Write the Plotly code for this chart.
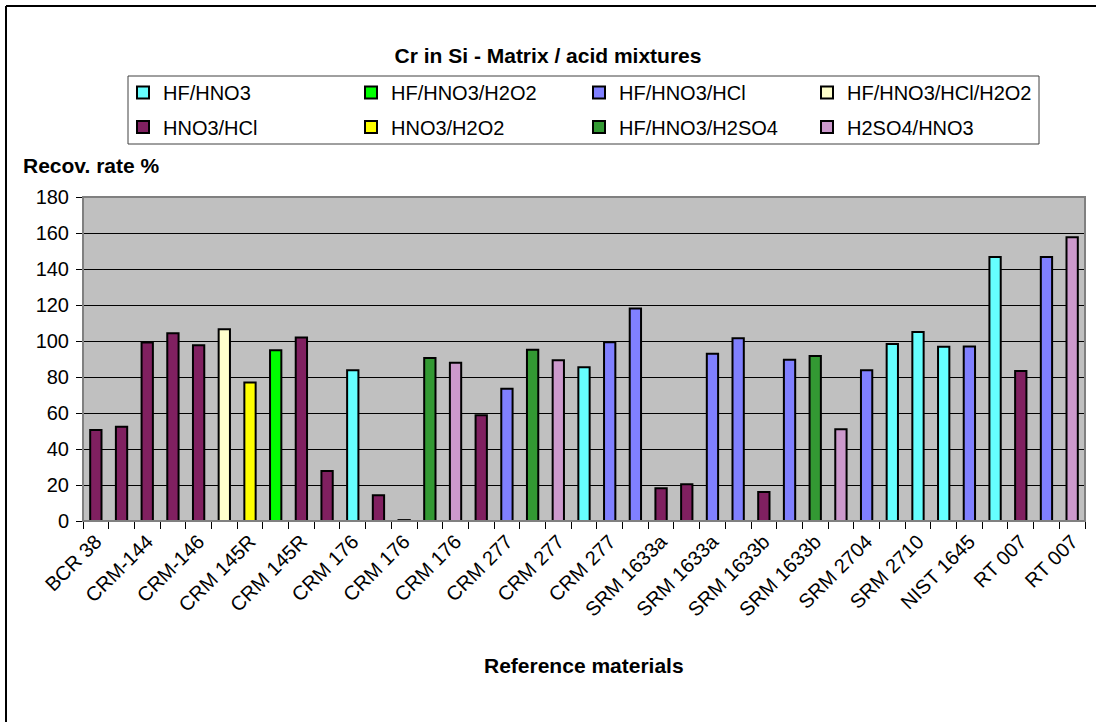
import plotly.graph_objects as go

# ---- data -------------------------------------------------------------
categories = ["BCR 38", "BCR 38", "CRM-144", "CRM-144", "CRM-146",
              "CRM 145R", "CRM 145R", "CRM 145R", "CRM 145R",
              "CRM 176", "CRM 176", "CRM 176", "CRM 176", "CRM 176", "CRM 176",
              "CRM 277", "CRM 277", "CRM 277", "CRM 277", "CRM 277", "CRM 277",
              "SRM 1633a", "SRM 1633a", "SRM 1633a", "SRM 1633a",
              "SRM 1633b", "SRM 1633b", "SRM 1633b", "SRM 1633b",
              "SRM 2704", "SRM 2704", "SRM 2710", "SRM 2710",
              "NIST 1645", "NIST 1645", "RT 007", "RT 007", "RT 007", "RT 007"]

values = [50.5, 52.3, 99.1, 104.3, 97.6, 106.5, 77.0, 94.8, 102.0, 27.8,
          83.7, 14.3, 0.5, 90.5, 87.9, 58.8, 73.5, 95.2, 89.3, 85.4,
          99.3, 118.0, 18.2, 20.4, 92.9, 101.5, 16.1, 89.6, 91.7, 51.0,
          83.7, 98.3, 105.0, 96.8, 97.0, 146.7, 83.3, 146.7, 157.7]

methods = ["HNO3/HCl", "HNO3/HCl", "HNO3/HCl", "HNO3/HCl", "HNO3/HCl",
           "HF/HNO3/HCl/H2O2", "HNO3/H2O2", "HF/HNO3/H2O2", "HNO3/HCl", "HNO3/HCl",
           "HF/HNO3", "HNO3/HCl", "HNO3/HCl", "HF/HNO3/H2SO4", "H2SO4/HNO3",
           "HNO3/HCl", "HF/HNO3/HCl", "HF/HNO3/H2SO4", "H2SO4/HNO3", "HF/HNO3",
           "HF/HNO3/HCl", "HF/HNO3/HCl", "HNO3/HCl", "HNO3/HCl", "HF/HNO3/HCl",
           "HF/HNO3/HCl", "HNO3/HCl", "HF/HNO3/HCl", "HF/HNO3/H2SO4", "H2SO4/HNO3",
           "HF/HNO3/HCl", "HF/HNO3", "HF/HNO3", "HF/HNO3", "HF/HNO3/HCl",
           "HF/HNO3", "HNO3/HCl", "HF/HNO3/HCl", "H2SO4/HNO3"]

legend_row1 = ["HF/HNO3", "HF/HNO3/H2O2", "HF/HNO3/HCl", "HF/HNO3/HCl/H2O2"]
legend_row2 = ["HNO3/HCl", "HNO3/H2O2", "HF/HNO3/H2SO4", "H2SO4/HNO3"]

colors = {
    "HF/HNO3": "#66FFFF",
    "HF/HNO3/H2O2": "#00FF00",
    "HF/HNO3/HCl": "#8080FF",
    "HF/HNO3/HCl/H2O2": "#FFFFCC",
    "HNO3/HCl": "#802060",
    "HNO3/H2O2": "#FFFF00",
    "HF/HNO3/H2SO4": "#339933",
    "H2SO4/HNO3": "#CC99CC",
}

y_ticks = [0, 20, 40, 60, 80, 100, 120, 140, 160, 180]

# ---- figure -----------------------------------------------------------
W, H = 1096, 722
ML, MR, MT, MB = 83, 11, 197, 201
PW, PH = W - ML - MR, H - MT - MB

def px_x(x):
    return (x - ML) / PW

def px_y(y):
    return (H - MB - y) / PH

FONT = "Liberation Sans, Arial, sans-serif"

fig = go.Figure()
for row, leg in ((legend_row1, "legend"), (legend_row2, "legend2")):
    for m in row:
        idx = [i for i, mm in enumerate(methods) if mm == m]
        fig.add_trace(go.Bar(
            x=idx,
            y=[values[i] for i in idx],
            name=m,
            legend=leg,
            width=0.44,
            marker=dict(color=colors[m], line=dict(color="black", width=2)),
        ))

n = len(categories)
leg_common = dict(orientation="h", xref="container", yref="container",
                  x=123 / W, xanchor="left", yanchor="middle",
                  entrywidth=183, entrywidthmode="pixels",
                  bgcolor="rgba(0,0,0,0)", borderwidth=0,
                  font=dict(size=20, family=FONT, color="black"),
                  traceorder="normal")

fig.update_layout(
    width=W, height=H,
    margin=dict(l=ML, r=MR, t=MT, b=MB),
    paper_bgcolor="white",
    plot_bgcolor="#C0C0C0",
    barmode="overlay",
    font=dict(family=FONT, size=20, color="black"),
    title=dict(text="<b>Cr in Si - Matrix / acid mixtures</b>",
               xref="container", x=0.5, xanchor="center",
               yref="container", y=1 - 56 / H, yanchor="middle",
               font=dict(size=21, family=FONT, color="black")),
    showlegend=True,
    legend=dict(leg_common, y=1 - 92.5 / H),
    legend2=dict(leg_common, y=1 - 127 / H),
    xaxis=dict(
        range=[-0.5, n - 0.5],
        tickmode="array",
        tickvals=list(range(0, n, 2)),
        ticktext=categories[0::2],
        tickangle=-45,
        ticks="",
        showgrid=False, zeroline=False,
        showline=True, linecolor="black", linewidth=1,
        tickfont=dict(size=20, family=FONT, color="black"),
        minor=dict(tickmode="array",
                   tickvals=[i - 0.5 for i in range(n + 1)],
                   ticks="outside", ticklen=7, tickcolor="black",
                   tickwidth=1, showgrid=False),
    ),
    yaxis=dict(
        range=[0, 180],
        tickmode="array", tickvals=y_ticks,
        ticks="outside", ticklen=6, tickcolor="black",
        ticklabelstandoff=3,
        showgrid=True, gridcolor="black", gridwidth=1,
        zeroline=False,
        showline=True, linecolor="black", linewidth=1,
        tickfont=dict(size=20, family=FONT, color="black"),
    ),
    shapes=[
        # plot area border
        dict(type="rect", xref="paper", yref="paper", x0=0, x1=1, y0=0, y1=1,
             line=dict(color="#808080", width=2), layer="above"),
        # legend frame
        dict(type="rect", xref="paper", yref="paper",
             x0=px_x(128), x1=px_x(1039), y0=px_y(144), y1=px_y(76),
             line=dict(color="#404040", width=1)),
        # chart frame (left & top visible)
        dict(type="line", xref="paper", yref="paper",
             x0=px_x(6), x1=px_x(6), y0=px_y(6), y1=px_y(H + 5),
             line=dict(color="black", width=2)),
        dict(type="line", xref="paper", yref="paper",
             x0=px_x(6), x1=px_x(W + 5), y0=px_y(6), y1=px_y(6),
             line=dict(color="black", width=2)),
    ],
    annotations=[
        dict(text="<b>Recov. rate %</b>", xref="paper", yref="paper",
             x=px_x(21), y=px_y(165), xanchor="left", yanchor="middle",
             showarrow=False, font=dict(size=21, family=FONT, color="black")),
        dict(text="<b>Reference materials</b>", xref="paper", yref="paper",
             x=0.5, y=px_y(665), xanchor="center", yanchor="middle",
             showarrow=False, font=dict(size=21, family=FONT, color="black")),
    ],
)

fig.write_html(
    "out.html",
    config={"displayModeBar": False},
    post_script="document.body.style.margin='0';document.body.style.overflow='hidden';",
)
